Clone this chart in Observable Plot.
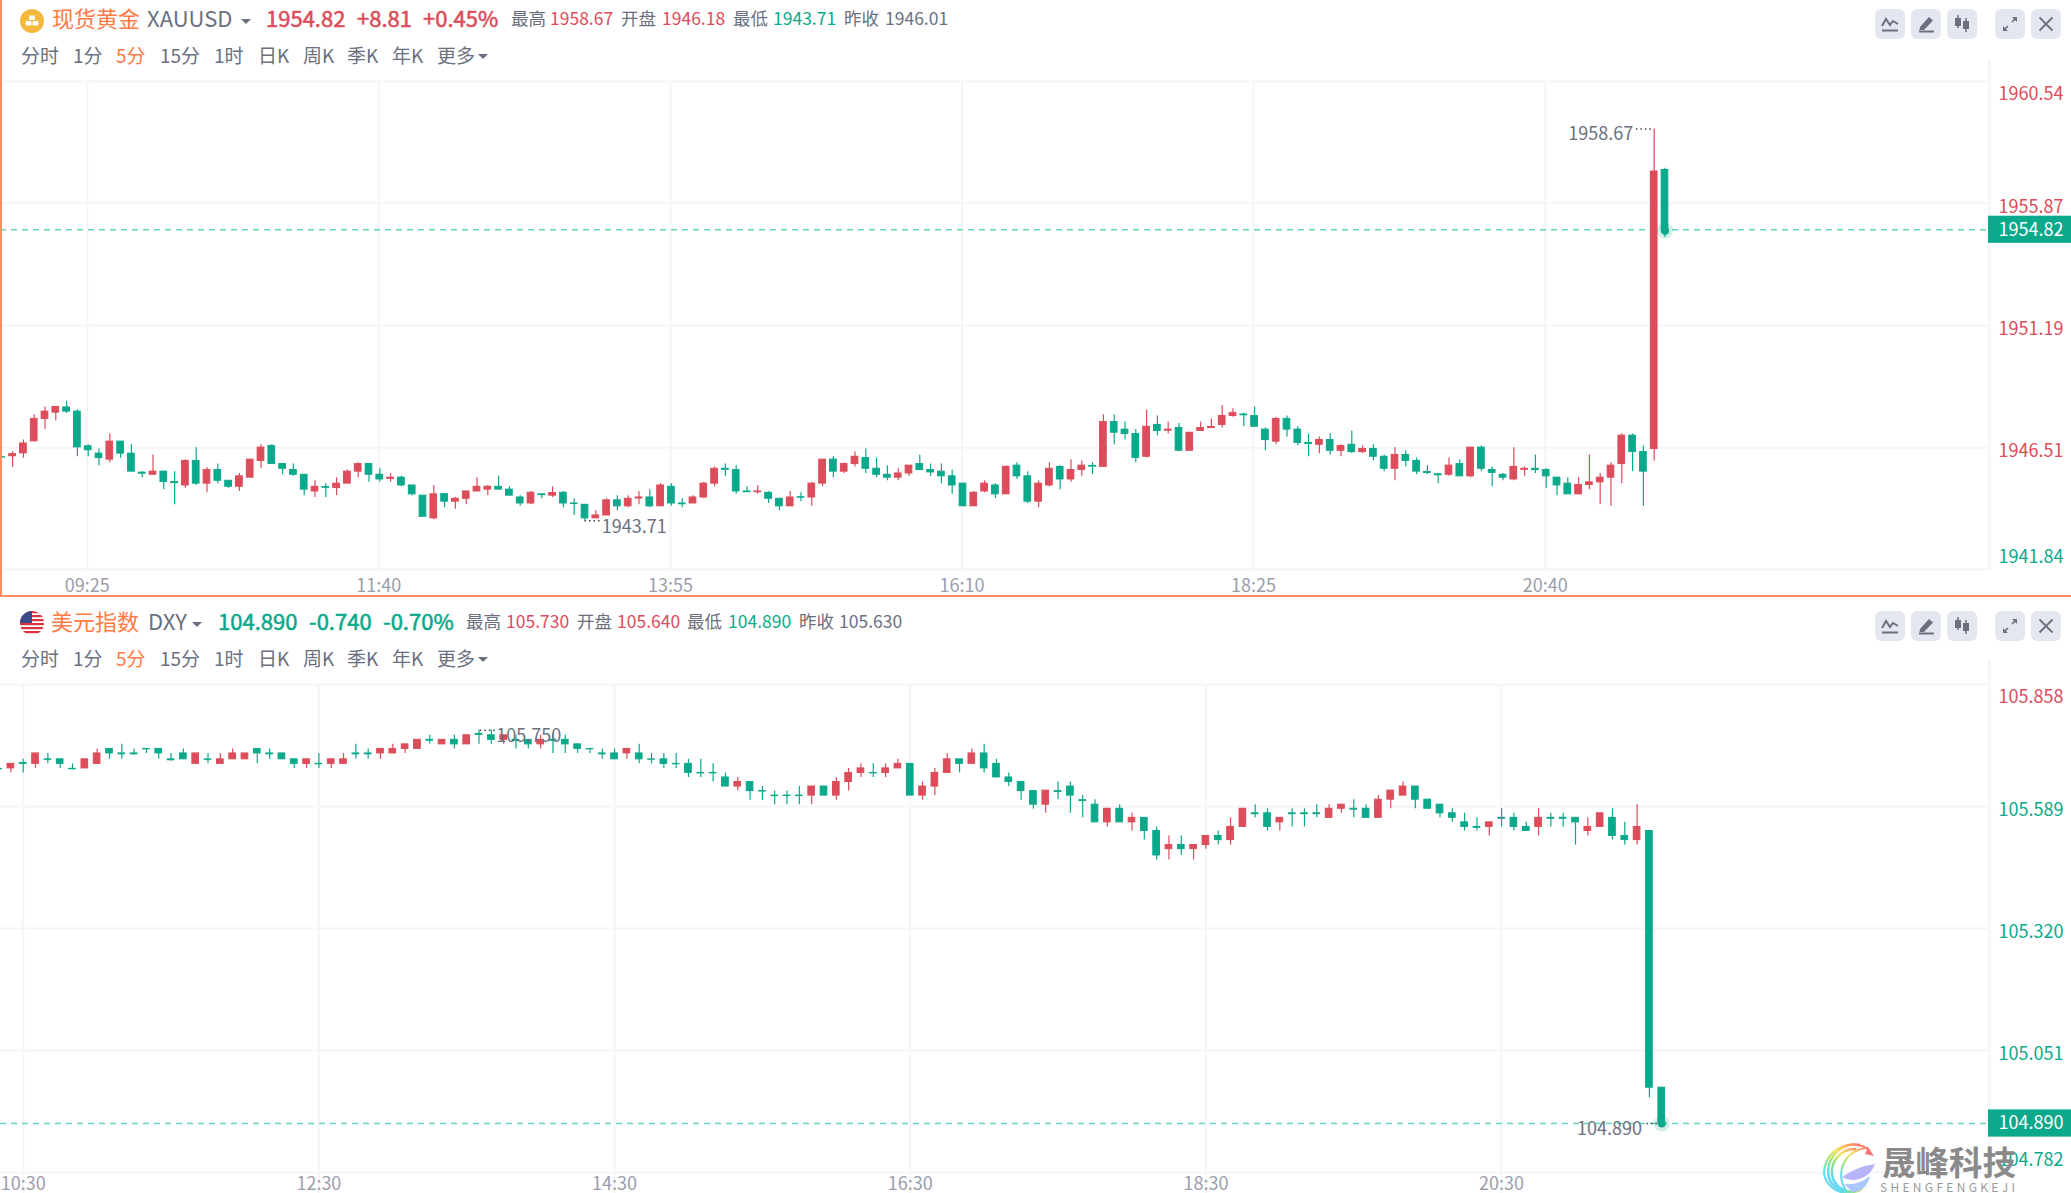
<!DOCTYPE html>
<html lang="zh">
<head>
<meta charset="utf-8">
<title>现货黄金 / 美元指数 5分K线</title>
<script src="https://cdn.jsdelivr.net/npm/d3@7"></script>
<script src="https://cdn.jsdelivr.net/npm/@observablehq/plot@0.6"></script>
<style>
html,body{margin:0;padding:0;background:#fff;width:2071px;height:1193px;overflow:hidden}
body{position:relative;font-family:"Noto Sans CJK SC","Noto Sans",sans-serif}
.t{position:absolute;white-space:nowrap;line-height:1;transform:translateY(-50%)}
.p{position:absolute;left:0}
.p svg{display:block;background:transparent;font-family:"Noto Sans CJK SC","Noto Sans",sans-serif}
.b{position:absolute;width:30px;height:30px;border-radius:6px;background:#e4e7ef}
.b svg{position:absolute;left:0;top:0}
</style>
</head>
<body>
<script>
const RED = "#dc4c5a", GREEN = "#0aa98b", ORANGE = "#ff7a45", GRAY = "#6b7080", GRID = "#f4f5f8", AXIS = "#9a9dab";

// ---- 现货黄金 XAUUSD 5分K线
const goldOpen = [
1946.14,1946.18,1946.29,1946.75,1947.61,1947.85,1948.05,1947.89,1946.56,1946.28,
1946.05,1946.74,1946.28,1945.55,1945.47,1945.59,1945.19,1945.06,1946.00,1945.13,
1945.65,1945.24,1945.01,1945.36,1946.00,1946.57,1945.88,1945.65,1945.47,1944.83,
1945.00,1944.96,1945.13,1945.59,1945.88,1945.47,1945.31,1945.36,1945.06,1944.67,
1943.80,1944.73,1944.44,1944.55,1944.83,1944.90,1945.01,1944.90,1944.60,1944.37,
1944.72,1944.67,1944.78,1944.37,1944.32,1943.80,1943.91,1944.49,1944.26,1944.56,
1944.60,1944.26,1945.01,1944.37,1944.37,1944.60,1945.13,1945.70,1945.65,1944.83,
1944.80,1944.78,1944.55,1944.26,1944.61,1944.60,1945.13,1946.05,1945.59,1945.88,
1946.11,1945.70,1945.47,1945.36,1945.52,1945.88,1945.65,1945.59,1945.41,1945.13,
1944.26,1944.83,1945.06,1944.72,1945.82,1945.41,1944.44,1945.06,1945.77,1945.29,
1945.65,1945.81,1945.77,1947.49,1947.20,1947.03,1946.16,1947.38,1947.16,1947.26,
1946.39,1947.15,1947.26,1947.38,1947.72,1947.78,1947.72,1947.20,1946.74,1947.61,
1947.20,1946.69,1946.62,1946.80,1946.39,1946.62,1946.34,1946.46,1946.16,1945.70,
1946.23,1946.00,1945.58,1945.49,1945.47,1945.88,1945.41,1946.51,1945.65,1945.47,
1945.29,1945.66,1945.70,1945.65,1945.36,1945.13,1944.72,1945.08,1945.18,1945.36,
1945.88,1946.97,1946.34,1946.46,1957.15];
const goldHigh = [
1946.16,1946.35,1946.80,1947.77,1948.07,1948.07,1948.29,1947.95,1946.62,1946.46,
1947.03,1946.74,1946.62,1945.60,1946.23,1945.59,1945.59,1946.05,1946.51,1945.75,
1945.88,1945.24,1945.52,1946.05,1946.62,1946.62,1945.88,1945.88,1945.47,1945.24,
1945.13,1945.36,1945.65,1945.93,1945.88,1945.70,1945.52,1945.41,1945.06,1944.67,
1945.06,1944.73,1944.60,1944.83,1945.36,1945.06,1945.42,1945.01,1944.67,1944.83,
1944.72,1945.01,1944.83,1944.55,1944.32,1944.09,1944.55,1944.67,1944.67,1944.83,
1944.90,1945.13,1945.13,1944.55,1944.67,1945.18,1945.77,1945.88,1945.82,1945.01,
1945.06,1944.83,1944.55,1944.83,1944.78,1945.18,1946.05,1946.16,1945.93,1946.34,
1946.46,1946.11,1945.82,1945.70,1945.82,1946.23,1945.88,1945.88,1945.65,1945.13,
1944.83,1945.24,1945.13,1945.82,1945.93,1945.59,1945.24,1945.93,1945.82,1946.05,
1946.00,1945.93,1947.77,1947.77,1947.49,1947.20,1947.95,1947.72,1947.49,1947.43,
1947.08,1947.49,1947.61,1948.12,1948.00,1947.84,1948.07,1947.26,1947.66,1947.72,
1947.31,1947.03,1946.92,1947.03,1946.62,1947.15,1946.57,1946.62,1946.23,1946.51,
1946.39,1946.11,1945.82,1945.52,1946.11,1946.05,1946.51,1946.57,1945.77,1945.52,
1946.51,1945.77,1946.23,1945.70,1945.36,1945.36,1945.36,1946.23,1945.52,1945.93,
1947.03,1947.03,1946.57,1958.72,1957.22];
const goldLow = [
1946.10,1945.75,1946.10,1946.75,1947.20,1947.54,1947.82,1946.16,1946.16,1945.82,
1945.93,1946.10,1945.59,1945.36,1945.47,1944.90,1944.32,1944.95,1945.06,1944.78,
1945.13,1944.95,1944.83,1945.36,1945.70,1945.88,1945.47,1945.41,1944.67,1944.60,
1944.60,1944.67,1945.13,1945.36,1945.18,1945.18,1945.18,1945.01,1944.67,1943.86,
1943.75,1944.21,1944.15,1944.32,1944.83,1944.67,1944.90,1944.67,1944.26,1944.32,
1944.55,1944.60,1944.21,1943.91,1943.71,1943.80,1943.91,1944.09,1944.21,1944.32,
1944.21,1944.26,1944.26,1944.21,1944.37,1944.55,1945.01,1945.41,1944.72,1944.80,
1944.72,1944.37,1944.09,1944.26,1944.44,1944.26,1945.01,1945.36,1945.52,1945.77,
1945.52,1945.36,1945.24,1945.24,1945.41,1945.65,1945.41,1945.13,1944.72,1944.26,
1944.26,1944.78,1944.55,1944.72,1945.29,1944.37,1944.21,1945.01,1944.90,1945.18,
1945.41,1945.47,1945.77,1946.62,1946.80,1945.93,1946.11,1946.97,1947.03,1946.39,
1946.39,1947.15,1947.26,1947.26,1947.67,1947.31,1947.31,1946.39,1946.62,1946.92,
1946.57,1946.16,1946.28,1946.23,1946.16,1946.28,1946.28,1946.00,1945.59,1945.24,
1945.77,1945.47,1945.47,1945.13,1945.41,1945.41,1945.36,1945.59,1945.01,1945.24,
1945.24,1945.41,1945.52,1944.95,1944.67,1944.72,1944.72,1944.90,1944.32,1944.26,
1945.13,1945.59,1944.26,1946.00,1954.57];
const goldClose = [
1946.13,1946.26,1946.67,1947.61,1947.89,1948.07,1947.89,1946.52,1946.41,1946.11,
1946.74,1946.28,1945.59,1945.51,1945.59,1945.19,1945.15,1946.00,1945.13,1945.65,
1945.24,1945.01,1945.41,1946.05,1946.51,1945.88,1945.70,1945.47,1944.90,1945.01,
1944.97,1945.13,1945.59,1945.88,1945.47,1945.29,1945.36,1945.06,1944.72,1943.86,
1944.72,1944.44,1944.55,1944.83,1945.01,1945.01,1944.90,1944.67,1944.37,1944.78,
1944.69,1944.77,1944.37,1944.35,1943.80,1943.91,1944.49,1944.26,1944.55,1944.60,
1944.26,1945.06,1944.37,1944.34,1944.60,1945.13,1945.70,1945.66,1944.83,1944.80,
1944.83,1944.55,1944.26,1944.60,1944.59,1945.13,1946.05,1945.59,1945.88,1946.16,
1945.70,1945.47,1945.36,1945.52,1945.82,1945.65,1945.56,1945.41,1945.06,1944.26,
1944.78,1945.13,1944.72,1945.77,1945.41,1944.44,1945.13,1945.70,1945.29,1945.65,
1945.82,1945.78,1947.49,1947.08,1947.03,1946.11,1947.31,1947.15,1947.20,1946.39,
1947.08,1947.26,1947.30,1947.72,1947.84,1947.75,1947.31,1946.80,1947.61,1947.20,
1946.69,1946.65,1946.80,1946.39,1946.57,1946.34,1946.46,1946.16,1945.70,1946.23,
1946.00,1945.59,1945.54,1945.45,1945.82,1945.41,1946.51,1945.70,1945.54,1945.36,
1945.77,1945.70,1945.65,1945.41,1945.06,1944.72,1945.08,1945.18,1945.36,1945.82,
1946.97,1946.34,1945.59,1957.09,1954.82];
const goldTickIndex = [8, 35, 62, 89, 116, 143];
const goldTickLabel = ["09:25", "11:40", "13:55", "16:10", "18:25", "20:40"];
const goldPriceTicks = [1960.54, 1955.87, 1951.19, 1946.51, 1941.84];
const goldPrevClose = 1946.01;

// ---- 美元指数 DXY 5分K线
const dxyOpen = [
105.672,105.673,105.685,105.683,105.693,105.693,105.672,105.673,105.683,105.716,
105.706,105.706,105.716,105.716,105.693,105.706,105.683,105.693,105.683,105.693,
105.693,105.716,105.706,105.706,105.693,105.683,105.683,105.683,105.683,105.706,
105.706,105.706,105.706,105.716,105.716,105.736,105.726,105.736,105.726,105.749,
105.746,105.736,105.736,105.736,105.726,105.736,105.736,105.726,105.716,105.706,
105.706,105.706,105.706,105.693,105.693,105.683,105.683,105.663,105.663,105.653,
105.633,105.643,105.623,105.613,105.613,105.613,105.613,105.633,105.613,105.643,
105.663,105.663,105.663,105.673,105.683,105.613,105.633,105.663,105.693,105.683,
105.706,105.683,105.653,105.643,105.623,105.593,105.623,105.633,105.603,105.593,
105.554,105.584,105.554,105.564,105.535,105.495,105.504,105.495,105.504,105.524,
105.515,105.544,105.574,105.574,105.554,105.574,105.574,105.574,105.564,105.584,
105.584,105.584,105.564,105.604,105.613,105.633,105.604,105.593,105.574,105.554,
105.544,105.544,105.564,105.564,105.544,105.544,105.564,105.564,105.564,105.535,
105.544,105.564,105.524,105.515,105.535,104.969];
const dxyHigh = [
105.672,105.683,105.693,105.706,105.706,105.693,105.683,105.693,105.716,105.716,
105.726,105.716,105.716,105.716,105.706,105.716,105.706,105.706,105.706,105.716,
105.706,105.716,105.716,105.706,105.693,105.693,105.706,105.693,105.706,105.726,
105.716,105.716,105.726,105.726,105.736,105.746,105.736,105.746,105.746,105.757,
105.757,105.746,105.746,105.736,105.746,105.749,105.746,105.726,105.716,105.716,
105.716,105.716,105.726,105.706,105.706,105.706,105.693,105.693,105.683,105.663,
105.653,105.643,105.633,105.623,105.623,105.633,105.633,105.633,105.653,105.673,
105.683,105.683,105.683,105.693,105.683,105.643,105.673,105.706,105.693,105.716,
105.726,105.693,105.663,105.643,105.623,105.624,105.643,105.643,105.613,105.604,
105.584,105.593,105.574,105.564,105.544,105.524,105.524,105.504,105.524,105.535,
105.564,105.584,105.593,105.584,105.564,105.584,105.584,105.593,105.593,105.593,
105.604,105.593,105.613,105.624,105.643,105.633,105.604,105.593,105.584,105.574,
105.564,105.554,105.584,105.574,105.554,105.584,105.574,105.574,105.564,105.564,
105.574,105.584,105.554,105.593,105.535,104.969];
const dxyLow = [
105.671,105.663,105.663,105.673,105.683,105.673,105.670,105.673,105.683,105.693,
105.693,105.703,105.706,105.693,105.689,105.693,105.683,105.683,105.683,105.693,
105.693,105.683,105.693,105.693,105.673,105.673,105.673,105.673,105.683,105.693,
105.693,105.693,105.706,105.706,105.716,105.726,105.726,105.716,105.726,105.726,
105.726,105.726,105.716,105.716,105.716,105.706,105.706,105.706,105.706,105.693,
105.693,105.693,105.683,105.683,105.673,105.673,105.653,105.653,105.643,105.633,
105.623,105.603,105.603,105.593,105.593,105.593,105.593,105.613,105.603,105.623,
105.653,105.653,105.653,105.673,105.613,105.603,105.613,105.663,105.663,105.683,
105.663,105.653,105.633,105.603,105.583,105.574,105.604,105.574,105.564,105.554,
105.544,105.554,105.535,105.515,105.471,105.471,105.481,105.471,105.495,105.504,
105.504,105.544,105.564,105.535,105.535,105.544,105.544,105.564,105.564,105.574,
105.564,105.564,105.564,105.584,105.613,105.584,105.584,105.564,105.554,105.535,
105.535,105.524,105.544,105.535,105.535,105.524,105.544,105.544,105.504,105.524,
105.544,105.515,105.504,105.504,104.947,104.890];
const dxyClose = [
105.671,105.683,105.683,105.706,105.692,105.683,105.671,105.693,105.706,105.706,
105.704,105.704,105.715,105.706,105.691,105.693,105.706,105.692,105.693,105.706,
105.706,105.706,105.704,105.693,105.683,105.693,105.682,105.693,105.693,105.704,
105.704,105.716,105.716,105.726,105.736,105.734,105.736,105.726,105.746,105.747,
105.736,105.746,105.734,105.726,105.736,105.734,105.726,105.716,105.715,105.704,
105.693,105.716,105.693,105.692,105.683,105.682,105.663,105.662,105.662,105.633,
105.643,105.623,105.622,105.612,105.612,105.612,105.633,105.613,105.643,105.663,
105.673,105.662,105.673,105.683,105.613,105.633,105.663,105.693,105.683,105.706,
105.673,105.653,105.643,105.623,105.593,105.624,105.621,105.613,105.601,105.554,
105.584,105.554,105.564,105.535,105.481,105.504,105.495,105.504,105.524,105.515,
105.544,105.584,105.572,105.544,105.564,105.572,105.572,105.572,105.584,105.593,
105.582,105.564,105.604,105.624,105.633,105.604,105.584,105.574,105.564,105.544,
105.542,105.554,105.562,105.544,105.535,105.564,105.562,105.562,105.554,105.544,
105.574,105.524,105.515,105.544,104.969,104.890];
const dxyTickIndex = [2, 26, 50, 74, 98, 122];
const dxyTickLabel = ["10:30", "12:30", "14:30", "16:30", "18:30", "20:30"];
const dxyPriceTicks = [105.858, 105.589, 105.320, 105.051, 104.782];
const dxyPrevClose = 105.630;

const tabs = [["分时",21],["1分",73],["5分",116],["15分",160],["1时",214],["日K",258],["周K",303],["季K",347],["年K",392],["更多",437]];

function text(str, x, y, size, color, weight) {
  const d = document.createElement("div");
  d.className = "t";
  d.textContent = str;
  d.style.cssText = `left:${x}px;top:${y}px;font-size:${size}px;color:${color};font-weight:400`;
  if (weight) d.style.webkitTextStroke = `0.55px ${color}`;
  document.body.appendChild(d);
  return d;
}
function caret(x, y) {
  const d = document.createElement("div");
  d.style.cssText = `position:absolute;left:${x}px;top:${y}px;width:0;height:0;border-left:5px solid transparent;border-right:5px solid transparent;border-top:5px solid ${GRAY}`;
  document.body.appendChild(d);
}
function header(y0, items) {
  for (const [s, x, c, sz, w] of items) text(s, x, y0 + (sz > 20 ? 16.5 : 18.3), sz, c, w);
  for (const [s, x] of tabs) text(s, x, y0 + 54, 19, s === "5分" ? ORANGE : GRAY);
  caret(478, y0 + 54);
}

const ICONS = [
  `<path d="M7 17 L11 10 L15 16 L18 12 L23 15" fill="none" stroke="${GRAY}" stroke-width="2"/><path d="M7 21.5H23" stroke="${GRAY}" stroke-width="2"/>`,
  `<path d="M9 18 L18 8 L22 11.5 L13 21 H8.5 Z" fill="${GRAY}"/><path d="M8 22.5H23" stroke="${GRAY}" stroke-width="2"/>`,
  `<path d="M11 6V19 M19 9V23" stroke="${GRAY}" stroke-width="1.5"/><rect x="8" y="9" width="6" height="8" fill="${GRAY}"/><rect x="16" y="12" width="6" height="8" fill="${GRAY}"/>`,
  `<path d="M17 13 L21.5 8.5 M13 17 L8.5 21.5" stroke="${GRAY}" stroke-width="1.6"/><path d="M17 8 H22 V13 Z M8 17 V22 H13 Z" fill="${GRAY}"/>`,
  `<path d="M8.5 8.5 L21.5 21.5 M21.5 8.5 L8.5 21.5" stroke="${GRAY}" stroke-width="1.8"/>`
];
function buttons(y) {
  [1875, 1911, 1947, 1995, 2031].forEach((x, k) => {
    const b = document.createElement("div");
    b.className = "b";
    b.style.left = x + "px"; b.style.top = y + "px";
    b.innerHTML = `<svg width="30" height="30" viewBox="0 0 30 30">${ICONS[k]}</svg>`;
    document.body.appendChild(b);
  });
}
function overlay(html, x, y, w, h) {
  const d = document.createElement("div");
  d.style.cssText = `position:absolute;left:${x}px;top:${y}px;width:${w}px;height:${h}px`;
  d.innerHTML = `<svg width="${w}" height="${h}" viewBox="0 0 ${w} ${h}" style="display:block">${html}</svg>`;
  document.body.appendChild(d);
}

// One candlestick panel. All marks go through Plot's x and y scales.
function panel(cfg) {
  const {open, high, low, close, tickIndex, tickLabel, priceTicks, prev, top, height, marginTop, marginBottom,
         xDomain, gridEnd, half, fmt, tag, notes, gridBottom, xLabelDy, gridDx, lastDy} = cfg;
  const rows = open.map((o, i) => ({i, open: o, high: high[i], low: low[i], close: close[i]}));
  const up = rows.filter(d => d.close > d.open);
  const down = rows.filter(d => d.close <= d.open);
  const last = rows[rows.length - 1];
  const [pMin, pMax] = d3.extent(priceTicks);
  const xLeft = xDomain[0], xRight = xDomain[1];
  const tickRows = tickIndex.map((i, k) => ({i, label: tickLabel[k]}));
  const font = {fontSize: 18, fontFamily: '"Noto Sans CJK SC","Noto Sans",sans-serif'};
  const priceLabel = (values, dy) => Plot.text(values, {
    x: gridEnd, y: d => d, dx: 10, dy, textAnchor: "start",
    text: d => fmt(d), fill: d => d > prev ? RED : GREEN, ...font
  });

  const chart = Plot.plot({
    width: 2071, height,
    marginTop, marginBottom, marginLeft: 0, marginRight: 0,
    x: {domain: xDomain, axis: null},
    y: {domain: [pMin, pMax], axis: null},
    marks: [
      Plot.ruleY(priceTicks, {x1: xLeft, x2: gridEnd, stroke: GRID, strokeWidth: 2}),
      Plot.ruleX(tickRows, {x: "i", y1: pMax, y2: gridBottom, dx: gridDx, stroke: GRID, strokeWidth: 2}),
      Plot.ruleX([gridEnd + (xRight - xLeft) * 0.0005], {y1: pMax + (pMax - pMin) * 0.05, y2: gridBottom, stroke: "#f1f2f7", strokeWidth: 2}),
      Plot.ruleY([last.close], {x1: xLeft, x2: gridEnd, dy: lastDy, stroke: "#5fd6c2", strokeWidth: 1.4, strokeDasharray: "6,5"}),
      Plot.ruleX(up, {x: "i", y1: "low", y2: "high", stroke: RED, strokeWidth: 1.2}),
      Plot.ruleX(down, {x: "i", y1: "low", y2: "high", stroke: GREEN, strokeWidth: 1.2}),
      Plot.rect(up, {x1: d => d.i - half, x2: d => d.i + half, y1: "open", y2: "close", fill: RED, stroke: RED, strokeWidth: 1}),
      Plot.rect(down, {x1: d => d.i - half, x2: d => d.i + half, y1: "open", y2: "close", fill: GREEN, stroke: GREEN, strokeWidth: 1}),
      Plot.dot([last], {x: "i", y: "close", r: 8, fill: GREEN, fillOpacity: 0.18}),
      Plot.dot([last], {x: "i", y: "close", r: 4, fill: GREEN}),
      ...notes.flatMap(n => [
        Plot.ruleY([n.y], {x1: n.x1, x2: n.x2, stroke: "#444", strokeWidth: 1.4, strokeDasharray: "1.5,3"}),
        Plot.text([n.text], {x: n.tx, y: n.y, dy: n.dy, textAnchor: n.anchor, fill: GRAY, ...font})
      ]),
      Plot.text(tickRows, {x: "i", text: "label", frameAnchor: "bottom", dx: gridDx, dy: xLabelDy, fill: AXIS, ...font}),
      priceLabel([pMax], 13),
      priceLabel(priceTicks.filter(d => d !== pMax && d !== pMin), 3.5),
      priceLabel([pMin], -12),
      Plot.rect([last], {x1: gridEnd, x2: xRight, y1: d => d.close - tag, y2: d => d.close + tag, dy: lastDy, fill: GREEN}),
      Plot.text([last], {x: gridEnd, y: "close", dx: 10, dy: lastDy, textAnchor: "start", text: d => fmt(d.close), fill: "#fff", ...font})
    ]
  });
  const host = document.createElement("div");
  host.className = "p";
  host.style.top = top + "px";
  host.appendChild(chart);
  document.body.appendChild(host);
}

// ---- Panel 1: gold
panel({
  open: goldOpen, high: goldHigh, low: goldLow, close: goldClose,
  tickIndex: goldTickIndex, tickLabel: goldTickLabel, priceTicks: goldPriceTicks, prev: goldPrevClose,
  top: 60, height: 535, marginTop: 21, marginBottom: 26,
  xDomain: [-0.12, 191.64], gridEnd: 183.95, half: 0.31, tag: 0.52,
  fmt: d => d.toFixed(2), gridBottom: 1941.78, xLabelDy: 22, gridDx: -1, lastDy: -1,
  notes: [
    {y: 1958.72, x1: 151.35, x2: 152.9, text: "1958.67", tx: 151.05, dy: 5, anchor: "end"},
    {y: 1943.71, x1: 54.0, x2: 55.5, text: "1943.71", tx: 55.55, dy: 7, anchor: "start"}
  ]
});

// ---- Panel 2: DXY
panel({
  open: dxyOpen, high: dxyHigh, low: dxyLow, close: dxyClose,
  tickIndex: dxyTickIndex, tickLabel: dxyTickLabel, priceTicks: dxyPriceTicks, prev: dxyPrevClose,
  top: 600, height: 593, marginTop: 84, marginBottom: 21,
  xDomain: [0.157, 168.26], gridEnd: 161.52, half: 0.27, tag: 0.03,
  fmt: d => d.toFixed(3), gridBottom: 104.72, xLabelDy: 17, gridDx: 0, lastDy: 0,
  notes: [
    {y: 105.757, x1: 39.1, x2: 40.5, text: "105.750", tx: 40.4, dy: 6, anchor: "start"},
    {y: 104.890, x1: 133.8, x2: 134.8, text: "104.890", tx: 133.4, dy: 6, anchor: "end"}
  ]
});

// ---- Headers and toolbars
header(0, [
  ["现货黄金", 52, ORANGE, 22], ["XAUUSD", 147, GRAY, 22],
  ["1954.82", 266, RED, 22, 1], ["+8.81", 357, RED, 22, 1], ["+0.45%", 423, RED, 22, 1],
  ["最高", 511, GRAY, 17.5], ["1958.67", 550, RED, 17.5], ["开盘", 621, GRAY, 17.5], ["1946.18", 662, RED, 17.5],
  ["最低", 733, GRAY, 17.5], ["1943.71", 773, GREEN, 17.5], ["昨收", 844, GRAY, 17.5], ["1946.01", 885, GRAY, 17.5]
]);
caret(241, 19);
header(603, [
  ["美元指数", 51, ORANGE, 22], ["DXY", 148, GRAY, 22],
  ["104.890", 218, GREEN, 22, 1], ["-0.740", 309, GREEN, 22, 1], ["-0.70%", 383, GREEN, 22, 1],
  ["最高", 466, GRAY, 17.5], ["105.730", 506, RED, 17.5], ["开盘", 577, GRAY, 17.5], ["105.640", 617, RED, 17.5],
  ["最低", 687, GRAY, 17.5], ["104.890", 728, GREEN, 17.5], ["昨收", 799, GRAY, 17.5], ["105.630", 839, GRAY, 17.5]
]);
caret(192, 622);
buttons(9);
buttons(611);

// Orange selection outline of the first panel
const sel = document.createElement("div");
sel.style.cssText = "position:absolute;left:0;top:0;width:2071px;height:597px;box-sizing:border-box;border-left:2px solid #ff8c66;border-bottom:2px solid #ff8c66;pointer-events:none";
document.body.appendChild(sel);

// Instrument icons
overlay(`<circle cx="13" cy="13" r="12" fill="#f2b93b"/>
  <rect x="10" y="7.5" width="6" height="4.5" rx="1" fill="#fff"/>
  <rect x="6.5" y="13" width="6" height="4.5" rx="1" fill="#fff"/>
  <rect x="13.5" y="13" width="6" height="4.5" rx="1" fill="#fff"/>`, 19, 8, 26, 26);
overlay(`<defs><clipPath id="fc"><circle cx="13" cy="13" r="12"/></clipPath></defs>
  <g clip-path="url(#fc)"><rect width="26" height="26" fill="#fff"/>
  ${[1, 5, 9, 13, 17, 21].map(y => `<rect x="0" y="${y}" width="26" height="2.2" fill="#d9343f"/>`).join("")}
  <rect x="0" y="1" width="13" height="12" fill="#3c4a8a"/></g>`, 19, 610, 26, 26);

// Watermark
overlay(`<defs><linearGradient id="wg" x1="1" y1="0" x2="0" y2="1">
   <stop offset="0" stop-color="#ff6f6f"/><stop offset=".22" stop-color="#ffb35c"/><stop offset=".42" stop-color="#f4e36a"/>
   <stop offset=".6" stop-color="#a6e36a"/><stop offset=".8" stop-color="#5fdcf0"/><stop offset="1" stop-color="#7cc4ff"/></linearGradient></defs>
  <g fill="none" stroke="url(#wg)">
   <path d="M48 6 A27 27 0 0 0 28 51" stroke-width="2"/>
   <path d="M45 5 A29 29 0 0 0 4 32 A24 24 0 0 0 26 51" stroke-width="2"/>
   <path d="M40 3 A27 27 0 0 0 9 36 A22 22 0 0 0 34 50" stroke-width="2.5"/>
   <path d="M36 7 A23 23 0 0 0 12 32 A20 20 0 0 0 42 47" stroke-width="2.5"/>
  </g>
  <path d="M48 5 L54 14 L45 12 Z" fill="#ff7373"/>
  <path d="M22 35 Q38 24 55 22 Q50 36 34 38 Q27 38 22 35 Z" fill="#b7b4fb"/>
  <path d="M24 42 Q38 44 50 34 Q46 50 32 50 Z" fill="#a9c6ff"/>`, 1820, 1142, 60, 51);
const wm = text("晟峰科技", 1882, 1161, 33.5, "#8a8a8a");
wm.style.fontFamily = '"Noto Sans CJK SC",serif';
wm.style.fontWeight = "700";
const wm2 = text("SHENGFENGKEJI", 1880, 1187, 12, "#9a9a9a");
wm2.style.letterSpacing = "3.3px";
</script>
</body>
</html>
